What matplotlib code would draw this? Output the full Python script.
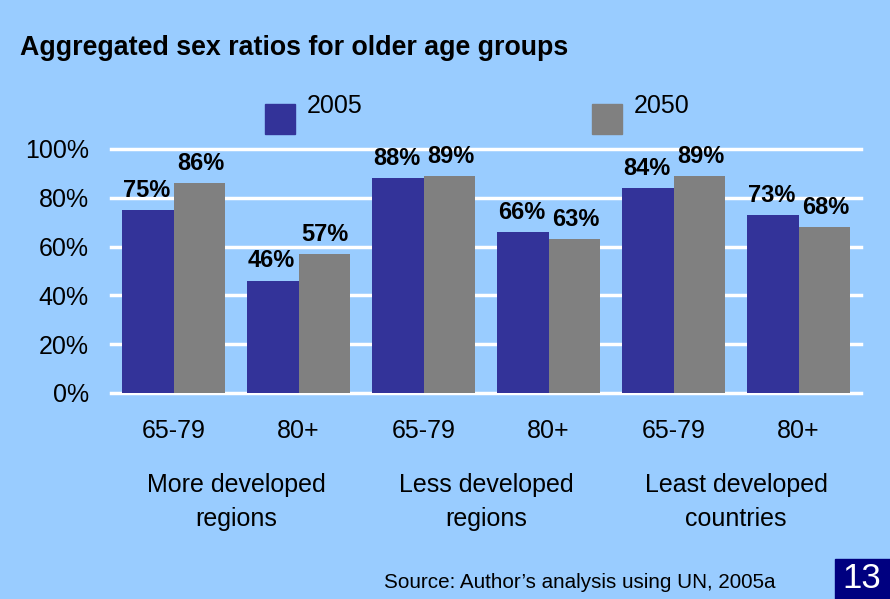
import matplotlib.pyplot as plt
from matplotlib.patches import Rectangle
import numpy as np

plt.rcParams["font.family"] = ["Liberation Sans", "DejaVu Sans"]

# data
ages = ["65-79", "80+", "65-79", "80+", "65-79", "80+"]
regions = ["More developed\nregions", "Less developed\nregions", "Least developed\ncountries"]
ratio_2005 = [0.75, 0.46, 0.88, 0.66, 0.84, 0.73]
ratio_2050 = [0.86, 0.57, 0.89, 0.63, 0.89, 0.68]
years = ["2005", "2050"]

bg = "#99CCFF"
c2005 = "#333399"
c2050 = "#808080"

W, H = 890, 599
fig = plt.figure(figsize=(W / 100, H / 100), dpi=100)
fig.patch.set_facecolor(bg)

ax = fig.add_axes([111 / W, (H - 393) / H, 750 / W, 244 / H])
ax.set_facecolor(bg)
ax.set_xlim(-0.5, 5.5)
ax.set_ylim(0, 1)

x = np.arange(len(ages))
w = 0.41
ax.bar(x - w / 2, ratio_2005, w, color=c2005, zorder=3)
ax.bar(x + w / 2, ratio_2050, w, color=c2050, zorder=3)

for v in np.arange(0, 1.01, 0.2):
    ax.axhline(v, color="white", lw=2.5, zorder=1, clip_on=False)

for i in range(len(ages)):
    ax.annotate(f"{ratio_2005[i]:.0%}", (x[i] - w / 2 - 0.01, ratio_2005[i]), xytext=(0, 6),
                textcoords="offset points", ha="center", va="bottom",
                fontsize=17, fontweight="bold")
    ax.annotate(f"{ratio_2050[i]:.0%}", (x[i] + w / 2 + 0.01, ratio_2050[i]), xytext=(0, 6),
                textcoords="offset points", ha="center", va="bottom",
                fontsize=17, fontweight="bold")

for s in ax.spines.values():
    s.set_visible(False)
ax.set_yticks(np.arange(0, 1.01, 0.2))
ax.set_yticklabels([f"{v:.0%}" for v in np.arange(0, 1.01, 0.2)], fontsize=18)
ax.tick_params(axis="y", length=0, pad=16)
ax.set_xticks(x)
ax.set_xticklabels(ages, fontsize=18)
ax.tick_params(axis="x", length=0, pad=19)

for j, r in enumerate(regions):
    fig.text((111 + 125 * (2 * j + 1)) / W, 1 - 502 / H, r, ha="center", va="center",
             fontsize=18, linespacing=1.5)

# legend drawn by hand (squares sit below the labels)
for cx, col, lab in [(265, c2005, years[0]), (592, c2050, years[1])]:
    fig.patches.append(Rectangle((cx / W, 1 - 134 / H), 30 / W, 30 / H,
                                 transform=fig.transFigure, color=col))
    fig.text((cx + 42) / W, 1 - 113 / H, lab, fontsize=18, ha="left", va="baseline")

fig.text(20 / W, 1 - 48 / H, "Aggregated sex ratios for older age groups", fontsize=19.3,
         fontweight="bold", va="center", ha="left")
fig.text(775 / W, 1 - 583 / H, "Source: Author\u2019s analysis using UN, 2005a", fontsize=14.9,
         va="center", ha="right")

fig.patches.append(Rectangle((835 / W, 0), 55 / W, 40 / H, transform=fig.transFigure,
                             color="#000080", zorder=5))
fig.text(862 / W, 20 / H, "13", color="white", fontsize=25, ha="center", va="center", zorder=6)

fig.savefig("out.png", dpi=100, facecolor=bg)
